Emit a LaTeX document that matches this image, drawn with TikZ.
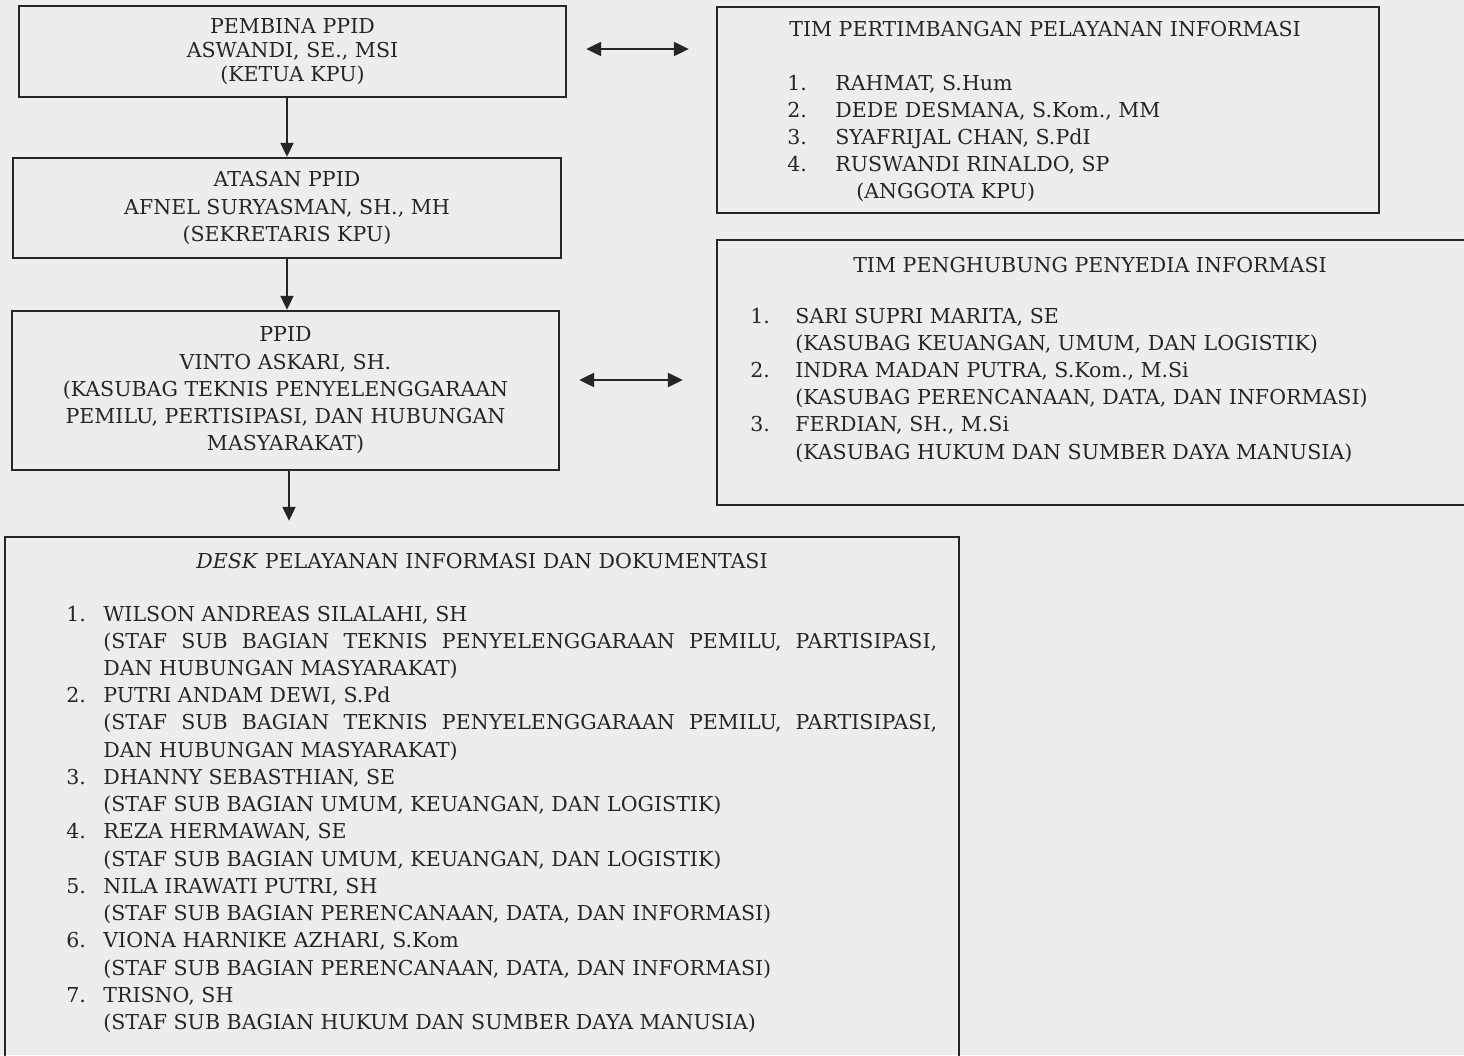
\documentclass[tikz,border=0pt]{standalone}
\usepackage{fontspec}
\setmainfont{DejaVu Serif}
\usepackage{array}
\usetikzlibrary{arrows.meta}
\definecolor{paper}{RGB}{236,238,235}
\definecolor{ink}{RGB}{38,38,38}

\begin{document}
\begin{tikzpicture}[x=0.02cm, y=-0.02cm,
        box/.style={draw=ink, line width=1.4pt, align=center, text=ink, inner sep=0pt, font=\fontsize{11.7}{15.5}\selectfont},
        txt/.style={text=ink, inner sep=0pt, font=\fontsize{11.7}{15.5}\selectfont},
        down/.style={draw=ink, line width=1.2pt, -{Triangle[width=0.26cm, length=0.28cm]}},
        both/.style={draw=ink, line width=1.2pt, {Triangle[width=0.28cm, length=0.3cm]}-{Triangle[width=0.28cm, length=0.3cm]}}]
    \clip (0,0) rectangle (1464,1055);
    \fill[paper] (0,0) rectangle (1464,1055);

    \node[box, minimum width=10.94cm, minimum height=1.82cm, font=\fontsize{11.7}{13.7}\selectfont] (pembina) at (292.5,51.5) {PEMBINA PPID\\ASWANDI, SE., MSI\\(KETUA KPU)};
    \node[box, minimum width=10.96cm, minimum height=2cm] (atasan) at (287,208) {ATASAN PPID\\AFNEL SURYASMAN, SH., MH\\(SEKRETARIS KPU)};
    \node[box, minimum width=10.94cm, minimum height=3.18cm] (ppid) at (285.5,390.5) {PPID\\VINTO ASKARI, SH.\\(KASUBAG TEKNIS PENYELENGGARAAN\\PEMILU, PERTISIPASI, DAN HUBUNGAN\\MASYARAKAT)};
    \node[box, minimum width=19.08cm, minimum height=10.76cm] (desk) at (482,806) {};
    \node[box, minimum width=13.24cm, minimum height=4.12cm] (timpert) at (1048,110) {};
    \node[box, minimum width=15.26cm, minimum height=5.3cm] (timpeng) at (1098.5,372.5) {};

    \node[txt] (timperttitle) at (1045,29) {TIM PERTIMBANGAN PELAYANAN INFORMASI};
    \node[txt, anchor=base west] (timpertlist) at (787,90) {\begin{tabular}[t]{@{}p{0.96cm}@{}l@{}}
        1. & RAHMAT, S.Hum\\
        2. & DEDE DESMANA, S.Kom., MM\\
        3. & SYAFRIJAL CHAN, S.PdI\\
        4. & RUSWANDI RINALDO, SP\\
           & \hspace*{0.42cm}(ANGGOTA KPU)
    \end{tabular}};

    \node[txt] (timpengtitle) at (1090,265) {TIM PENGHUBUNG PENYEDIA INFORMASI};
    \node[txt, anchor=base west] (timpenglist) at (750,323) {\begin{tabular}[t]{@{}p{0.9cm}@{}l@{}}
        1. & SARI SUPRI MARITA, SE\\
           & (KASUBAG KEUANGAN, UMUM, DAN LOGISTIK)\\
        2. & INDRA MADAN PUTRA, S.Kom., M.Si\\
           & (KASUBAG PERENCANAAN, DATA, DAN INFORMASI)\\
        3. & FERDIAN, SH., M.Si\\
           & (KASUBAG HUKUM DAN SUMBER DAYA MANUSIA)
    \end{tabular}};

    \node[txt] (desktitle) at (482,561) {\textit{DESK} PELAYANAN INFORMASI DAN DOKUMENTASI};
    \node[txt, anchor=base west] (desklist) at (66,621) {\begin{tabular}[t]{@{}p{0.74cm}@{}p{16.68cm}@{}}
        1. & WILSON ANDREAS SILALAHI, SH\newline
             (STAF SUB BAGIAN TEKNIS PENYELENGGARAAN PEMILU, PARTISIPASI,\linebreak DAN HUBUNGAN MASYARAKAT)\\
        2. & PUTRI ANDAM DEWI, S.Pd\newline
             (STAF SUB BAGIAN TEKNIS PENYELENGGARAAN PEMILU, PARTISIPASI,\linebreak DAN HUBUNGAN MASYARAKAT)\\
        3. & DHANNY SEBASTHIAN, SE\newline
             (STAF SUB BAGIAN UMUM, KEUANGAN, DAN LOGISTIK)\\
        4. & REZA HERMAWAN, SE\newline
             (STAF SUB BAGIAN UMUM, KEUANGAN, DAN LOGISTIK)\\
        5. & NILA IRAWATI PUTRI, SH\newline
             (STAF SUB BAGIAN PERENCANAAN, DATA, DAN INFORMASI)\\
        6. & VIONA HARNIKE AZHARI, S.Kom\newline
             (STAF SUB BAGIAN PERENCANAAN, DATA, DAN INFORMASI)\\
        7. & TRISNO, SH\newline
             (STAF SUB BAGIAN HUKUM DAN SUMBER DAYA MANUSIA)
    \end{tabular}};

    \draw[down] (atasan.north |- pembina.south) -- (atasan.north);
    \draw[down] (atasan.south) -- (atasan.south |- ppid.north);
    \draw[down, shorten >=0.3cm] ([xshift=0.07cm]ppid.south) -- ([xshift=0.07cm]ppid.south |- desk.north);
    \draw[both, shorten <=0.38cm, shorten >=0.54cm] ([yshift=0.05cm]pembina.east) -- ([yshift=0.05cm]pembina.east -| timpert.west);
    \draw[both, shorten <=0.38cm, shorten >=0.66cm] ([yshift=0.21cm]ppid.east) -- ([yshift=0.21cm]ppid.east -| timpeng.west);
\end{tikzpicture}
\end{document}
